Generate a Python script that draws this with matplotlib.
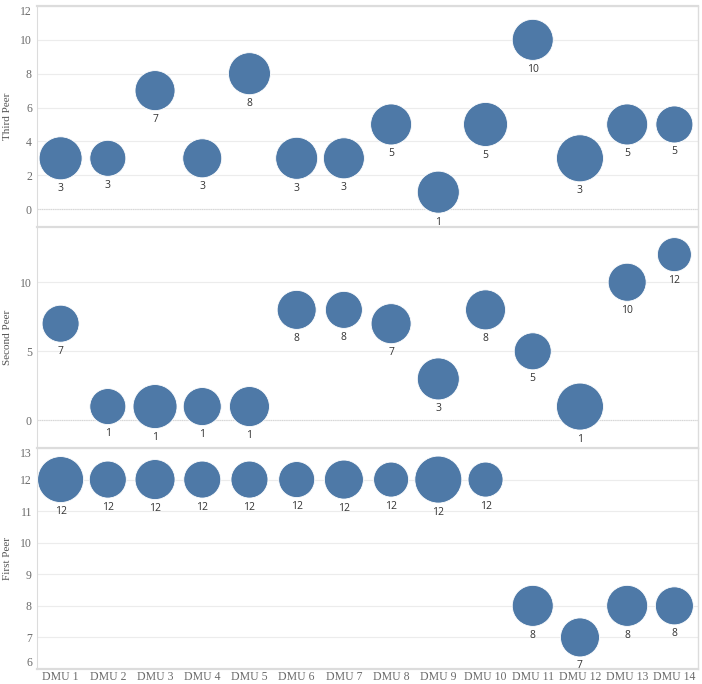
import matplotlib
matplotlib.use("Agg")
import matplotlib.pyplot as plt

# data
dmus = [f"DMU {i}" for i in range(1, 15)]
third_peer = [3, 3, 7, 3, 8, 3, 3, 5, 1, 5, 10, 3, 5, 5]
second_peer = [7, 1, 1, 1, 1, 8, 8, 7, 3, 8, 5, 1, 10, 12]
first_peer = [12, 12, 12, 12, 12, 12, 12, 12, 12, 12, 8, 7, 8, 8]
# bubble weights (shown as bubble diameter)
third_w = [43, 36, 40, 39, 42, 42, 41, 41, 42, 44, 41, 47, 41, 37]
second_w = [37, 36, 44, 38, 40, 39, 37, 40, 42, 40, 37, 47, 38, 34]
first_w = [46, 37, 40, 37, 37, 36, 39, 35, 47, 35, 41, 39, 41, 38]

W, H = 702, 684
DPI = 100
blue = "#4e79a7"
grid_c = "#ececec"
border_c = "#dcdcdc"
tick_c = "#6b6b6b"
serif = ["Liberation Serif", "DejaVu Serif"]

fig = plt.figure(figsize=(W / DPI, H / DPI), dpi=DPI)
fig.patch.set_facecolor("white")

left, right = 37, 698
panels = [
    # (values, weights, label, top px, bottom px, ylim, ticks)
    (third_peer, third_w, "Third Peer", 6, 226, (-1, 12), list(range(0, 13, 2))),
    (second_peer, second_w, "Second Peer", 227, 448, (-2, 14), [0, 5, 10]),
    (first_peer, first_w, "First Peer", 448, 669, (6, 13), list(range(6, 14))),
]

x = list(range(len(dmus)))
pt = 72 / DPI  # points per pixel

for i, (vals, wts, name, top, bot, ylim, ticks) in enumerate(panels):
    ax = fig.add_axes([left / W, 1 - bot / H, (right - left) / W, (bot - top) / H])
    ax.set_xlim(-0.5, len(dmus) - 0.5)
    ax.set_ylim(*ylim)
    ax.set_yticks(ticks)
    ax.yaxis.grid(True, color=grid_c, lw=0.8)
    ax.set_axisbelow(True)
    if 0 in ticks and ylim[0] < 0:
        ax.axhline(0, color="#d6d6d6", lw=0.8, ls=(0, (1, 1)), zorder=1)

    sizes = [(d * pt) ** 2 for d in wts]
    ax.scatter(x, vals, s=sizes, color=blue, edgecolor="white", linewidth=0.6, zorder=3)
    for xi, v, d in zip(x, vals, wts):
        ax.annotate(str(v), (xi, v), xytext=(0, -(d / 2 + 9) * pt),
                    textcoords="offset points", ha="center", va="center",
                    fontsize=7.5, family=["Open Sans", "DejaVu Sans"], color="#333333",
                    zorder=4)

    for side in ["left", "right", "top", "bottom"]:
        ax.spines[side].set_color(border_c)
    ax.spines["left"].set_linewidth(0.8)
    ax.spines["right"].set_linewidth(1.0)
    ax.spines["top"].set_linewidth(1.6)
    ax.spines["bottom"].set_linewidth(1.6 if i == 2 else 0)

    ax.tick_params(axis="y", length=0, pad=5 * pt, labelsize=8.5, labelcolor=tick_c)
    for lab in ax.get_yticklabels():
        lab.set_family(serif)
    ax.set_ylabel(name, family=serif, fontsize=8, color="#555555", va="center")
    ax.yaxis.set_label_coords(-29 / (right - left), 0.5)

    if i == 2:
        ax.set_xticks(x)
        ax.set_xticklabels(dmus, family=serif, fontsize=8.5, color=tick_c)
        ax.tick_params(axis="x", length=0, pad=2 * pt)
    else:
        ax.set_xticks([])

    # keep the end tick labels inside the panel
    labs = ax.get_yticklabels()
    if ticks[-1] == ylim[1]:
        labs[-1].set_va("top")
    if ticks[0] == ylim[0]:
        labs[0].set_va("bottom")

fig.savefig("out.png", dpi=DPI, facecolor="white")
